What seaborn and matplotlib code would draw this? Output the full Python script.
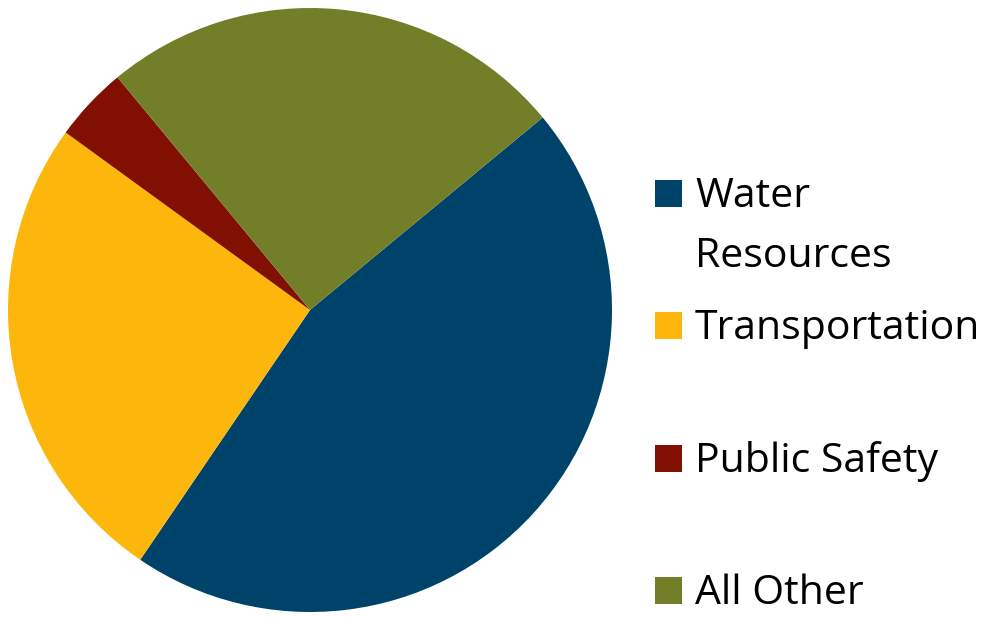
import matplotlib
matplotlib.use("Agg")
import matplotlib.pyplot as plt
from matplotlib.patches import Rectangle
import seaborn as sns

# shares of spending (percent)
categories = ["Water\nResources", "Transportation", "Public Safety", "All Other"]
shares = [45.5, 25.5, 4.0, 25.0]
colors = ["#00436A", "#FCB60C", "#821002", "#737F28"]

sns.set_theme(style="white")
plt.rcParams['font.family'] = ['Open Sans', 'DejaVu Sans']

W, H = 992, 617
fig = plt.figure(figsize=(W / 100, H / 100), dpi=100)

# pie placed at pixel centre (310, 310) with radius 302
cx, cy, r = 310, 310, 302
ax = fig.add_axes([(cx - r) / W, (H - cy - r) / H, 2 * r / W, 2 * r / H])
palette = sns.color_palette(colors)
ax.pie(shares, colors=palette, startangle=39.6, counterclock=False,
       radius=1.0, wedgeprops=dict(linewidth=0))
ax.set_xlim(-1, 1)
ax.set_ylim(-1, 1)
ax.set_aspect("equal")
ax.axis("off")

# legend drawn by hand: square next to first line of each label
box_bottoms = [207, 339, 472, 604]
box = 27
for lab, col, bb in zip(categories, palette, box_bottoms):
    fig.patches.append(Rectangle((655 / W, 1 - bb / H), box / W, box / H,
                                 transform=fig.transFigure, facecolor=col,
                                 edgecolor="none"))
    for i, line in enumerate(lab.split("\n")):
        fig.text(695 / W, 1 - (bb + 60 * i) / H, line, fontsize=29.5,
                 color="black", ha="left", va="baseline")

fig.savefig("out.png", dpi=100, facecolor="white")
